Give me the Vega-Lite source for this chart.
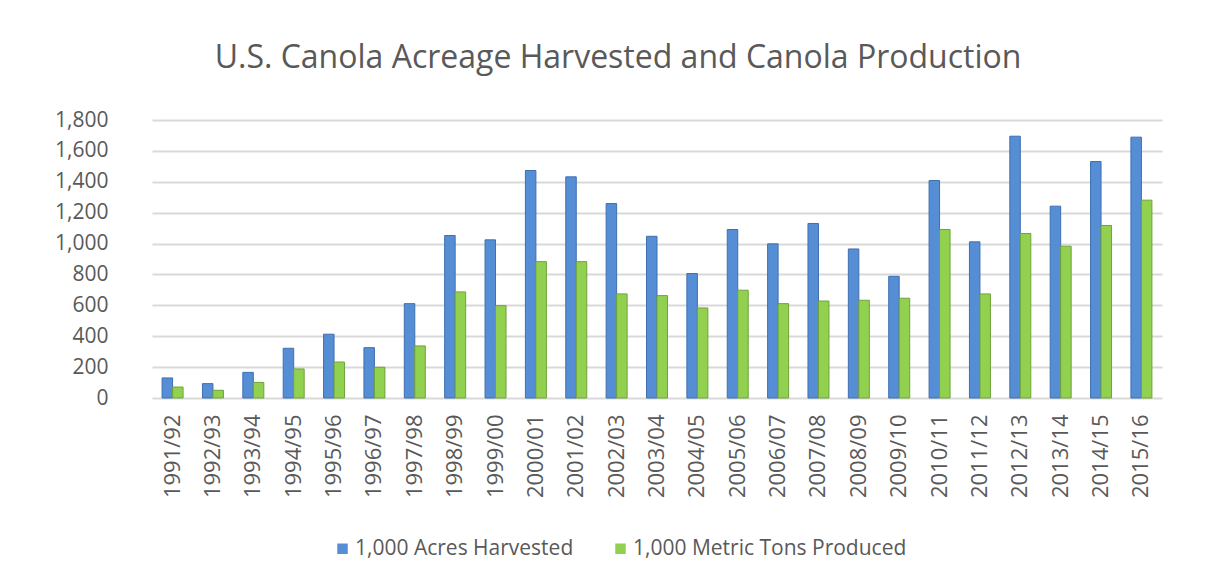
{
  "$schema": "https://vega.github.io/schema/vega-lite/v6.json",
  "autosize": {"type": "none"},
  "width": 1010,
  "height": 278,
  "padding": {"left": 152, "top": 120, "right": 58, "bottom": 184},
  "background": "white",
  "title": {
    "text": "U.S. Canola Acreage Harvested and Canola Production",
    "font": "Open Sans",
    "fontSize": 32,
    "fontWeight": "normal",
    "color": "#595959",
    "anchor": "middle",
    "frame": "group",
    "dx": -39,
    "offset": 34
  },
  "config": {
    "view": {"stroke": null},
    "font": "Open Sans"
  },
  "data": {
    "values": [
      {"year": "1991/92", "series": "1,000 Acres Harvested", "value": 130},
      {"year": "1991/92", "series": "1,000 Metric Tons Produced", "value": 71},
      {"year": "1992/93", "series": "1,000 Acres Harvested", "value": 93},
      {"year": "1992/93", "series": "1,000 Metric Tons Produced", "value": 50},
      {"year": "1993/94", "series": "1,000 Acres Harvested", "value": 166},
      {"year": "1993/94", "series": "1,000 Metric Tons Produced", "value": 101},
      {"year": "1994/95", "series": "1,000 Acres Harvested", "value": 322},
      {"year": "1994/95", "series": "1,000 Metric Tons Produced", "value": 188},
      {"year": "1995/96", "series": "1,000 Acres Harvested", "value": 413},
      {"year": "1995/96", "series": "1,000 Metric Tons Produced", "value": 233},
      {"year": "1996/97", "series": "1,000 Acres Harvested", "value": 326},
      {"year": "1996/97", "series": "1,000 Metric Tons Produced", "value": 199},
      {"year": "1997/98", "series": "1,000 Acres Harvested", "value": 611},
      {"year": "1997/98", "series": "1,000 Metric Tons Produced", "value": 337},
      {"year": "1998/99", "series": "1,000 Acres Harvested", "value": 1052},
      {"year": "1998/99", "series": "1,000 Metric Tons Produced", "value": 687},
      {"year": "1999/00", "series": "1,000 Acres Harvested", "value": 1024},
      {"year": "1999/00", "series": "1,000 Metric Tons Produced", "value": 598},
      {"year": "2000/01", "series": "1,000 Acres Harvested", "value": 1473},
      {"year": "2000/01", "series": "1,000 Metric Tons Produced", "value": 883},
      {"year": "2001/02", "series": "1,000 Acres Harvested", "value": 1432},
      {"year": "2001/02", "series": "1,000 Metric Tons Produced", "value": 883},
      {"year": "2002/03", "series": "1,000 Acres Harvested", "value": 1259},
      {"year": "2002/03", "series": "1,000 Metric Tons Produced", "value": 674},
      {"year": "2003/04", "series": "1,000 Acres Harvested", "value": 1047},
      {"year": "2003/04", "series": "1,000 Metric Tons Produced", "value": 663},
      {"year": "2004/05", "series": "1,000 Acres Harvested", "value": 806},
      {"year": "2004/05", "series": "1,000 Metric Tons Produced", "value": 583},
      {"year": "2005/06", "series": "1,000 Acres Harvested", "value": 1091},
      {"year": "2005/06", "series": "1,000 Metric Tons Produced", "value": 698},
      {"year": "2006/07", "series": "1,000 Acres Harvested", "value": 998},
      {"year": "2006/07", "series": "1,000 Metric Tons Produced", "value": 611},
      {"year": "2007/08", "series": "1,000 Acres Harvested", "value": 1130},
      {"year": "2007/08", "series": "1,000 Metric Tons Produced", "value": 628},
      {"year": "2008/09", "series": "1,000 Acres Harvested", "value": 965},
      {"year": "2008/09", "series": "1,000 Metric Tons Produced", "value": 633},
      {"year": "2009/10", "series": "1,000 Acres Harvested", "value": 788},
      {"year": "2009/10", "series": "1,000 Metric Tons Produced", "value": 646},
      {"year": "2010/11", "series": "1,000 Acres Harvested", "value": 1408},
      {"year": "2010/11", "series": "1,000 Metric Tons Produced", "value": 1091},
      {"year": "2011/12", "series": "1,000 Acres Harvested", "value": 1011},
      {"year": "2011/12", "series": "1,000 Metric Tons Produced", "value": 674},
      {"year": "2012/13", "series": "1,000 Acres Harvested", "value": 1695},
      {"year": "2012/13", "series": "1,000 Metric Tons Produced", "value": 1065},
      {"year": "2013/14", "series": "1,000 Acres Harvested", "value": 1242},
      {"year": "2013/14", "series": "1,000 Metric Tons Produced", "value": 983},
      {"year": "2014/15", "series": "1,000 Acres Harvested", "value": 1531},
      {"year": "2014/15", "series": "1,000 Metric Tons Produced", "value": 1117},
      {"year": "2015/16", "series": "1,000 Acres Harvested", "value": 1689},
      {"year": "2015/16", "series": "1,000 Metric Tons Produced", "value": 1281}
    ]
  },
  "mark": {"type": "bar", "strokeWidth": 1},
  "encoding": {
    "x": {
      "field": "year",
      "type": "nominal",
      "sort": null,
      "scale": {"paddingInner": 0.48, "paddingOuter": 0.25},
      "axis": {
        "title": null,
        "labelAngle": -90,
        "labelFont": "Open Sans",
        "labelFontSize": 22,
        "labelColor": "#595959",
        "labelPadding": 16,
        "labelLimit": 200,
        "ticks": false,
        "domain": false
      }
    },
    "xOffset": {
      "field": "series",
      "type": "nominal",
      "sort": ["1,000 Acres Harvested", "1,000 Metric Tons Produced"]
    },
    "y": {
      "field": "value",
      "type": "quantitative",
      "scale": {"domain": [0, 1800], "nice": false},
      "axis": {
        "title": null,
        "values": [0, 200, 400, 600, 800, 1000, 1200, 1400, 1600, 1800],
        "format": ",.0f",
        "labelFont": "Open Sans",
        "labelFontSize": 21,
        "labelColor": "#595959",
        "labelPadding": 44,
        "ticks": false,
        "domain": false,
        "grid": true,
        "gridColor": "#D9D9D9",
        "gridWidth": 2
      }
    },
    "color": {
      "field": "series",
      "type": "nominal",
      "scale": {
        "domain": ["1,000 Acres Harvested", "1,000 Metric Tons Produced"],
        "range": ["#558ED5", "#92D050"]
      },
      "legend": {
        "title": null,
        "orient": "none",
        "direction": "horizontal",
        "legendX": 180,
        "legendY": 418,
        "symbolType": "square",
        "symbolSize": 110,
        "symbolStrokeWidth": 0,
        "labelFont": "Open Sans",
        "labelFontSize": 21,
        "labelColor": "#595959",
        "labelOffset": 2,
        "labelLimit": 400,
        "columnPadding": 36
      }
    },
    "stroke": {
      "field": "series",
      "type": "nominal",
      "scale": {
        "domain": ["1,000 Acres Harvested", "1,000 Metric Tons Produced"],
        "range": ["#3F6FB0", "#6FA33A"]
      },
      "legend": null
    }
  }
}
